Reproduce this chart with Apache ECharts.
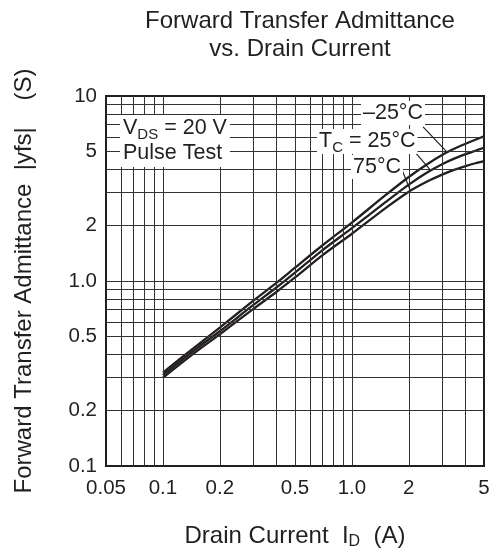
<!DOCTYPE html>
<html><head><meta charset="utf-8">
<script src="https://cdn.jsdelivr.net/npm/echarts@6/dist/echarts.min.js"></script>
<style>html,body{margin:0;padding:0;background:#fff}#c{width:498px;height:555px}</style>
</head><body><div id="c"></div>
<script>
// ---- data ----
const drainCurrent = [0.1, 0.15, 0.2, 0.3, 0.4, 0.5, 0.7, 1, 1.5, 2, 2.5, 3, 3.5, 4, 4.5, 5];
const yfsMinus25C = [0.32, 0.445, 0.56, 0.78, 0.98, 1.18, 1.56, 2.07, 2.9, 3.65, 4.28, 4.8, 5.2, 5.52, 5.8, 6.05];
const yfs25C      = [0.31, 0.43, 0.535, 0.74, 0.925, 1.11, 1.47, 1.93, 2.66, 3.32, 3.86, 4.28, 4.6, 4.85, 5.06, 5.25];
const yfs75C      = [0.30, 0.415, 0.515, 0.705, 0.875, 1.045, 1.38, 1.80, 2.47, 3.04, 3.45, 3.76, 4.0, 4.18, 4.33, 4.45];
const xTickLabels = [0.05, 0.1, 0.2, 0.5, 1, 2, 5];
const yTickLabels = [0.1, 0.2, 0.5, 1, 2, 5, 10];
const xGridValues = [0.06, 0.07, 0.08, 0.09, 0.1, 0.2, 0.3, 0.4, 0.5, 0.6, 0.7, 0.8, 0.9, 1, 2, 3, 4];
const yGridValues = [0.2, 0.3, 0.4, 0.5, 0.6, 0.7, 0.8, 0.9, 1, 2, 3, 4, 5, 6, 7, 8, 9];
// arrow annotations: [fromX, fromY, toX, toY] in data units
const arrowMinus25 = [2.38, 6.81, 3.17, 5.0];
const arrow25      = [2.07, 5.22, 2.59, 4.0];
const arrow75      = [1.84, 3.99, 2.03, 3.12];

const FONT = '"Liberation Sans", Arial, Helvetica, sans-serif';
const INK = '#231f20';

function pairs(xs, ys) { return xs.map((x, i) => [x, ys[i]]); }
function fmt(v) { const r = +(+v).toPrecision(3); return r === 1 ? '1.0' : String(r); }
function arrow(a) { return [{ coord: [a[0], a[1]] }, { coord: [a[2], a[3]] }]; }

const chart = echarts.init(document.getElementById('c'), null, { renderer: 'canvas' });

const curveStyle = { color: INK, width: 2.3 };

chart.setOption({
  animation: false,
  backgroundColor: '#fff',
  title: {
    text: 'Forward Transfer Admittance\nvs. Drain Current',
    left: 295, top: 2, textAlign: 'center',
    textStyle: { fontFamily: FONT, fontSize: 24, fontWeight: 'normal', color: INK, lineHeight: 28 }
  },
  grid: { left: 106, right: 14, top: 96, bottom: 88, show: true, borderColor: INK, borderWidth: 2, backgroundColor: 'transparent' },
  xAxis: {
    type: 'log', logBase: 10, min: 0.05, max: 5,
    name: 'Drain Current  I{sub|D}  (A)',
    nameLocation: 'middle', nameGap: 57,
    nameTextStyle: {
      fontFamily: FONT, fontSize: 24, color: INK, lineHeight: 26,
      rich: { sub: { fontFamily: FONT, fontSize: 16, color: INK, lineHeight: 14, padding: [12, 0, 0, 0] } }
    },
    axisLine: { show: false }, axisTick: { show: false }, splitLine: { show: false },
    minorTick: { show: false }, minorSplitLine: { show: false },
    axisLabel: { customValues: xTickLabels, formatter: fmt, fontFamily: FONT, fontSize: 20.5, color: INK, margin: 12 }
  },
  yAxis: {
    type: 'log', logBase: 10, min: 0.1, max: 10,
    name: 'Forward Transfer Admittance  |yfs|    (S)',
    nameLocation: 'middle', nameGap: 70,
    nameTextStyle: { fontFamily: FONT, fontSize: 24, color: INK },
    axisLine: { show: false }, axisTick: { show: false }, splitLine: { show: false },
    minorTick: { show: false }, minorSplitLine: { show: false },
    axisLabel: { customValues: yTickLabels, formatter: fmt, fontFamily: FONT, fontSize: 20.5, color: INK, margin: 9 }
  },
  series: [
    {
      type: 'line', name: 'grid', data: [], silent: true, z: 1,
      markLine: {
        silent: true, symbol: ['none', 'none'], animation: false,
        label: { show: false },
        lineStyle: { color: '#333', width: 1, type: 'solid' },
        emphasis: { disabled: true },
        data: xGridValues.map(v => ({ xAxis: v })).concat(yGridValues.map(v => ({ yAxis: v })))
      }
    },
    { type: 'line', name: '-25°C', data: pairs(drainCurrent, yfsMinus25C), smooth: 0.3, showSymbol: false, lineStyle: curveStyle, z: 3 },
    { type: 'line', name: '25°C', data: pairs(drainCurrent, yfs25C), smooth: 0.3, showSymbol: false, lineStyle: curveStyle, z: 3 },
    { type: 'line', name: '75°C', data: pairs(drainCurrent, yfs75C), smooth: 0.3, showSymbol: false, lineStyle: curveStyle, z: 3 },
    {
      type: 'line', name: 'arrows', data: [], silent: true, z: 20,
      markLine: {
        silent: true, symbol: ['none', 'arrow'], symbolSize: [0, 9], animation: false,
        label: { show: false },
        lineStyle: { color: INK, width: 1.2, type: 'solid' },
        emphasis: { disabled: true },
        data: [arrow(arrowMinus25), arrow(arrow25), arrow(arrow75)]
      }
    }
  ],
  graphic: [
    {
      type: 'text', x: 120, y: 115, z: 100,
      style: {
        text: 'V{sub|DS} = 20 V\nPulse Test',
        fontFamily: FONT, fontSize: 21.5, fill: INK, lineHeight: 25,
        align: 'left', verticalAlign: 'top',
        backgroundColor: '#fff', padding: [1, 3, 1, 3],
        rich: { sub: { fontFamily: FONT, fontSize: 15, fill: INK, lineHeight: 12, padding: [13, 0, 0, 0] } }
      }
    },
    {
      type: 'text', x: 361, y: 101, z: 100,
      style: { text: '\u201325°C', fontFamily: FONT, fontSize: 21.5, fill: INK, lineHeight: 24, align: 'left', verticalAlign: 'top', backgroundColor: '#fff', padding: [0, 2, 0, 2] }
    },
    {
      type: 'text', x: 317, y: 129, z: 100,
      style: {
        text: 'T{sub|C} = 25°C', fontFamily: FONT, fontSize: 21.5, fill: INK, lineHeight: 25,
        align: 'left', verticalAlign: 'top', backgroundColor: '#fff', padding: [0, 2, 0, 2],
        rich: { sub: { fontFamily: FONT, fontSize: 15, fill: INK, lineHeight: 12, padding: [13, 0, 0, 0] } }
      }
    },
    {
      type: 'text', x: 351, y: 155, z: 100,
      style: { text: '75°C', fontFamily: FONT, fontSize: 21.5, fill: INK, lineHeight: 24, align: 'left', verticalAlign: 'top', backgroundColor: '#fff', padding: [0, 2, 0, 2] }
    }
  ]
});
</script>
</body></html>
